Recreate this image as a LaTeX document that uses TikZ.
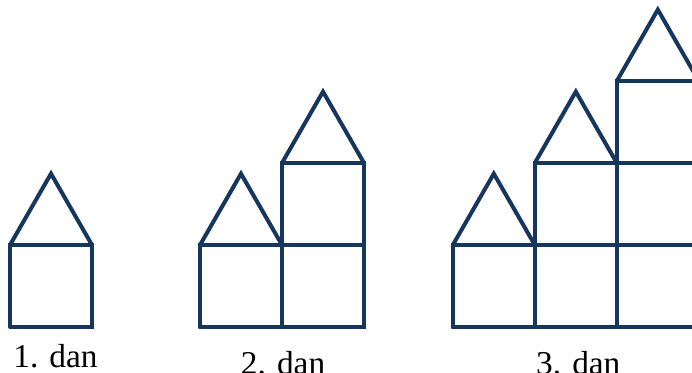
\documentclass[tikz,border=0pt]{standalone}
\usepackage{fontspec}
\setmainfont{Liberation Serif}
\definecolor{hiska}{RGB}{22,54,94}
\tikzset{rob/.style={line width=3pt, draw=hiska, line cap=round},
         ime/.style={text=black, font=\fontsize{25}{25}\selectfont, anchor=base, inner sep=0pt}}

\begin{document}
\begin{tikzpicture}[scale=2.1615]
\useasboundingbox (-0.122,-0.549) rectangle (8.317,3.988);
\clip (-0.122,-0.549) rectangle (8.317,3.988);
% 1. dan
\draw[rob] (0,0)--(1,0)--(1,1)--(0,1)--(0,0);
\draw[rob] (0,1)--(0.5,1.87)--(1,1);
\node[ime] (dan1) at (0.555,-0.488) {1. dan};
% 2. dan
\draw[rob] (2.317,0)--(4.317,0)--(4.317,2)--(3.317,2)--(3.317,0);
\draw[rob] (2.317,0)--(2.317,1)--(4.317,1);
\draw[rob] (2.317,1)--(2.817,1.87)--(3.317,1);
\draw[rob] (3.317,2)--(3.817,2.87)--(4.317,2);
\node[ime] (dan2) at (3.33,-0.573) {2. dan};
% 3. dan
\draw[rob] (5.40,0)--(8.40,0)--(8.40,3)--(7.40,3)--(7.40,0);
\draw[rob] (5.40,0)--(5.40,1)--(8.40,1);
\draw[rob] (6.40,0)--(6.40,2)--(8.40,2);
\draw[rob] (5.40,1)--(5.90,1.87)--(6.40,1);
\draw[rob] (6.40,2)--(6.90,2.87)--(7.40,2);
\draw[rob] (7.40,3)--(7.90,3.87)--(8.40,3);
\node[ime] (dan3) at (6.93,-0.585) {3. dan};
\end{tikzpicture}
\end{document}
